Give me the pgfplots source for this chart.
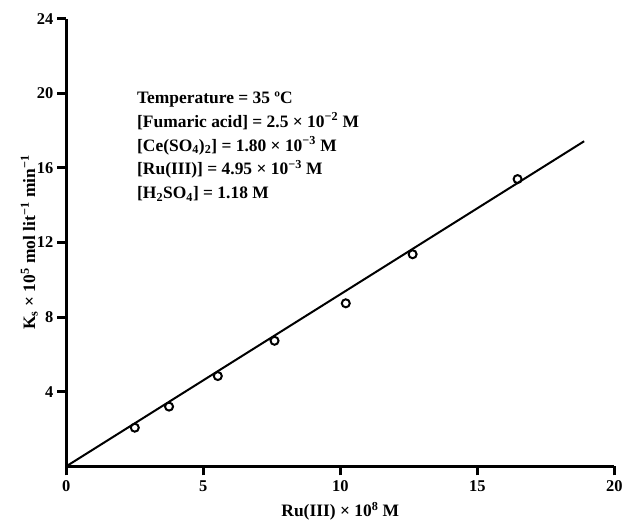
\documentclass[border=0pt]{standalone}
\usepackage{pgfplots}
\pgfplotsset{compat=1.18}
\usepackage{fontspec}
\setmainfont{Liberation Serif}
\begin{document}
\begin{tikzpicture}
\path[use as bounding box] (-66.3bp,-53.7bp) rectangle (559.7bp,466.3bp);
\begin{axis}[
  scale only axis,
  width=548bp, height=447.6bp,
  xmin=0, xmax=20, ymin=0, ymax=24,
  axis x line*=bottom, axis y line*=left,
  axis line style={line width=3bp,-},
  xtick={0,5,10,15,20}, ytick={4,8,12,16,20,24},
  tick align=outside,
  major tick length=9bp,
  tick style={line width=3bp,black},
  /pgf/number format/assume math mode=true,
  ticklabel style={font=\fontsize{16.5}{19}\selectfont\bfseries},
  xticklabel style={yshift=-2bp},
  yticklabel style={xshift=-0.5bp},
  xlabel={Ru(III) × 10\textsuperscript{8} M},
  ylabel={K\textsubscript{s} × 10\textsuperscript{5} mol lit\textsuperscript{−1} min\textsuperscript{−1}},
  label style={font=\fontsize{17.5}{20}\selectfont\bfseries},
  xlabel style={at={(axis description cs:0.5,-0.112)},anchor=base},
  ylabel style={at={(axis description cs:-0.057,0.5)},anchor=base},
  clip=false,
]
\addplot[black, line width=2bp, no marks] coordinates {(0,0) (18.9,17.43)};
\addplot[only marks, mark=o, mark size=4bp, mark options={line width=2bp, black, fill=white}] coordinates {
(2.5,2.07) (3.75,3.2) (5.53,4.84) (7.6,6.73) (10.2,8.74) (12.64,11.37) (16.47,15.4)};
\node[anchor=north west, align=left, inner sep=0pt, font=\fontsize{17.5}{24}\selectfont\bfseries] at (axis cs:2.58,20.1) {%
Temperature = 35 ºC\\
{[}Fumaric acid{]} = 2.5 × 10\textsuperscript{−2} M\\
{[}Ce(SO\textsubscript{4})\textsubscript{2}{]} = 1.80 × 10\textsuperscript{−3} M\\
{[}Ru(III){]} = 4.95 × 10\textsuperscript{−3} M\\
{[}H\textsubscript{2}SO\textsubscript{4}{]} = 1.18 M};
\end{axis}
\end{tikzpicture}
\end{document}
